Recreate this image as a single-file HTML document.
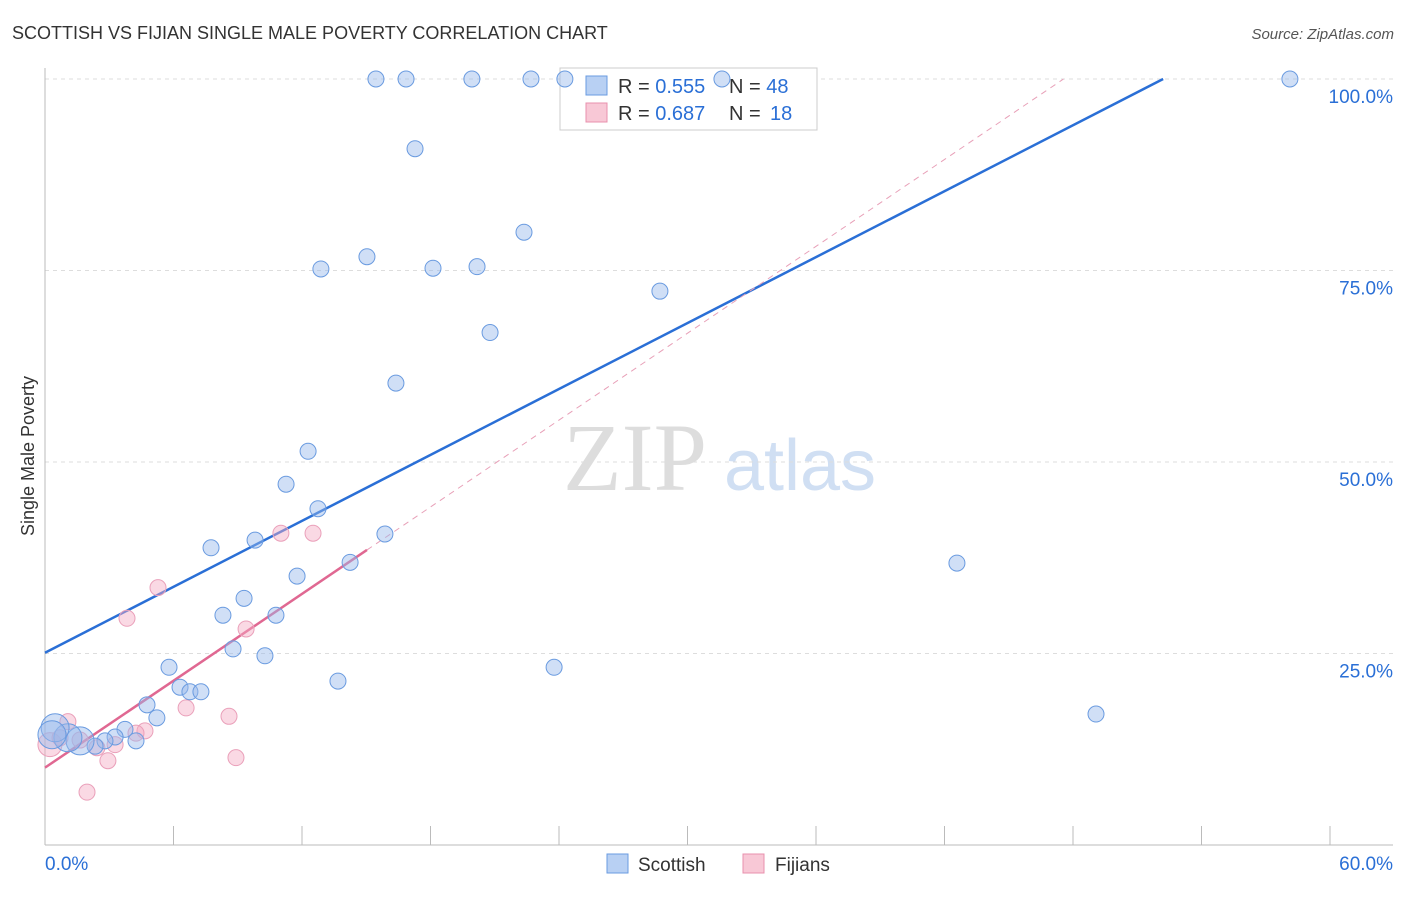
<!DOCTYPE html>
<html><head><meta charset="utf-8"><style>
body{margin:0;background:#fff;font-family:"Liberation Sans",sans-serif;}
</style></head><body>
<svg id="c" width="1406" height="892" xmlns="http://www.w3.org/2000/svg" font-family="Liberation Sans, sans-serif">
<text x="12" y="39" font-size="18" fill="#333">SCOTTISH VS FIJIAN SINGLE MALE POVERTY CORRELATION CHART</text>
<text x="1394" y="39" font-size="15" fill="#555" text-anchor="end" font-style="italic">Source: ZipAtlas.com</text>
<text transform="translate(34,456) rotate(-90)" font-size="18" fill="#333" text-anchor="middle">Single Male Poverty</text>
<g><text x="635" y="490" font-size="96" fill="#ddd" font-family="Liberation Serif, serif" text-anchor="middle">ZIP</text><text x="800" y="490" font-size="72" fill="#d0dff3" text-anchor="middle">atlas</text></g>
<g id="grid"></g><g id="axes"></g><g id="lines"></g>
<g>
<rect x="560" y="68" width="257" height="62" fill="#fff" stroke="#ccc"/>
<rect x="586" y="76" width="21" height="19" fill="#b8d0f3" stroke="#6a9be0"/>
<text x="618" y="93" font-size="20" fill="#333">R = <tspan fill="#2a6fd6">0.555</tspan></text>
<text x="729" y="93" font-size="20" fill="#333">N = <tspan fill="#2a6fd6">48</tspan></text>
<rect x="586" y="103" width="21" height="19" fill="#f8c8d6" stroke="#e890ad"/>
<text x="618" y="120" font-size="20" fill="#333">R = <tspan fill="#2a6fd6">0.687</tspan></text>
<text x="729" y="120" font-size="20" fill="#333">N = <tspan fill="#2a6fd6" x="770">18</tspan></text>
</g>
<g id="pts"></g>
<g>
<rect x="607" y="854" width="21" height="19" fill="#b8d0f3" stroke="#6a9be0"/>
<text x="638" y="871" font-size="19" fill="#333">Scottish</text>
<rect x="743" y="854" width="21" height="19" fill="#f8c8d6" stroke="#e890ad"/>
<text x="775" y="871" font-size="19" fill="#333">Fijians</text>
</g>
</svg>
<script>
const blueX=[14.73,16.07,19.0,21.63,23.14,30.13,55.41,16.47,21.32,14.33,12.28,17.27,19.23,27.37,19.81,15.62,11.71,10.73,12.15,15.13,7.39,9.35,13.58,40.59,11.22,8.86,7.92,10.28,8.37,9.79,5.52,22.66,13.04,6.01,6.45,6.94,4.54,4.98,46.78,3.56,4.05,3.12,2.67,2.23,1.56,1.02,0.45,0.31];
const blueY=[100,100,100,100,100,100,100,90.9,80.0,76.8,75.2,75.3,75.5,72.3,66.9,60.3,51.4,47.1,43.9,40.6,38.8,39.8,36.9,36.8,35.1,32.2,30.0,30.0,25.6,24.7,23.2,23.2,21.4,20.6,20.0,20.0,18.3,16.6,17.1,15.1,13.6,14.1,13.6,12.9,13.6,14.0,15.3,14.4];
const pinkX=[5.03,3.65,10.5,11.93,8.95,6.28,8.19,4.45,8.5,2.8,1.87,1.02,0.22,3.12,2.31,1.56,0.67,4.05];
const pinkY=[33.6,29.6,40.7,40.7,28.2,17.9,16.8,14.9,11.4,11.0,6.9,16.1,13.1,13.1,12.7,13.7,14.0,14.6];
const blueFit=[25.1,1.505];
const pinkFit=[10.1,1.983];
const yTicks=[25,50,75,100];
const yTickLabels=["25.0%","50.0%","75.0%","100.0%"];
const xLabels=["0.0%","60.0%"];
const NS="http://www.w3.org/2000/svg";
const X=v=>45+v*22.467, Y=v=>845-v*7.66;
function mk(p,t,a){const e=document.createElementNS(NS,t);for(const k in a)e.setAttribute(k,a[k]);document.getElementById(p).appendChild(e);return e;}
yTicks.forEach((t,i)=>{
 const g=mk('grid','line',{x1:45,x2:1393,y1:Y(t),y2:Y(t),stroke:'#ddd','stroke-dasharray':'4,4'});
 
 
 const l=mk('grid','text',{x:1393,y:Y(t)+24,'font-size':19,fill:'#2a6fd6','text-anchor':'end'});l.textContent=yTickLabels[i];
 
 
});
const ax=mk('axes','line',{x1:45,x2:1393,y1:845,y2:845,stroke:'#bbb'});


const ay=mk('axes','line',{x1:45,x2:45,y1:68,y2:845,stroke:'#bbb'});


for(let k=0;k<=10;k++){const t=mk('axes','line',{x1:45+k*128.5,x2:45+k*128.5,y1:826,y2:845,stroke:'#bbb'});
 
 }
const xl0=mk('axes','text',{x:45,y:870,'font-size':19,fill:'#2a6fd6'});xl0.textContent=xLabels[0];


const xl1=mk('axes','text',{x:1393,y:870,'font-size':19,fill:'#2a6fd6','text-anchor':'end'});xl1.textContent=xLabels[1];


const bx2=(100-blueFit[0])/blueFit[1];
const bl=mk('lines','line',{x1:X(0),y1:Y(blueFit[0]),x2:X(bx2),y2:Y(100),stroke:'#2a6fd6','stroke-width':2.5});


const pmax=Math.max(...pinkX)+2.4, px2=(100-pinkFit[0])/pinkFit[1];
const pd=mk('lines','line',{x1:X(pmax),y1:Y(pinkFit[0]+pinkFit[1]*pmax),x2:X(px2),y2:Y(100),stroke:'#e8a0b8','stroke-width':1,'stroke-dasharray':'6,5'});


const pl=mk('lines','line',{x1:X(0),y1:Y(pinkFit[0]),x2:X(pmax),y2:Y(pinkFit[0]+pinkFit[1]*pmax),stroke:'#e06892','stroke-width':2.5});


pinkX.forEach((v,i)=>{const c=mk('pts','circle',{cx:X(v),cy:Y(pinkY[i]),r:i==12?12:8,fill:'rgba(245,170,195,0.45)',stroke:'#eaa0ba','stroke-width':1});
 
 });
blueX.forEach((v,i)=>{const c=mk('pts','circle',{cx:X(v),cy:Y(blueY[i]),r:(i>=44)?14:8,fill:'rgba(150,185,235,0.45)',stroke:'#6a9be0','stroke-width':1});
 
 });
const topGrid=mk('grid','line',{x1:45,x2:1393,y1:Y(100),y2:Y(100),stroke:'#ddd','stroke-dasharray':'4,4'});


</script>
</body></html>
